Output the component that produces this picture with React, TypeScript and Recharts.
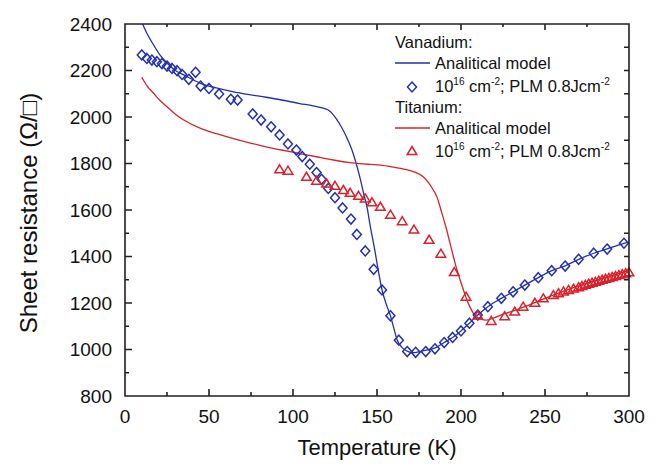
import React from 'react';
import { ComposedChart, Line, XAxis, YAxis } from 'recharts';

// [temperature K, sheet resistance Ω/□]
const vanadiumModel: [number, number][] = [
  [10.5, 2400], [13, 2360], [17, 2310], [21, 2265], [25, 2232], [30, 2200], [35, 2181],
  [45, 2145], [55, 2124], [64, 2109], [74, 2096], [84, 2085], [94, 2072], [104, 2058],
  [112, 2048], [118, 2038], [122, 2025], [126, 1990], [129, 1955], [132, 1912], [135, 1860],
  [137, 1815], [140, 1735], [142, 1672], [144, 1614], [146, 1530], [148.5, 1435], [151, 1330],
  [153, 1256], [155.5, 1195], [158, 1145], [160, 1092], [162, 1041], [165, 1008], [168, 993],
  [171, 986], [175, 990], [180, 998], [185, 1008], [190, 1030], [195, 1052], [200, 1080],
  [205, 1113], [210, 1148], [216, 1184], [224, 1220], [231, 1248], [238, 1277], [246, 1309],
  [254, 1339], [262, 1360], [270, 1388], [279, 1414], [287, 1433], [297, 1456], [300, 1462],
];

const vanadiumData: [number, number][] = [
  [10, 2267], [13, 2252], [16, 2245], [19, 2238], [22, 2230], [25, 2219], [28, 2209],
  [31, 2199], [34, 2183], [38, 2162], [42, 2192], [45, 2133], [50, 2123], [56, 2099],
  [63, 2076], [67, 2073], [76, 2013], [81, 1987], [87, 1958], [92, 1923], [97, 1884],
  [102, 1858], [105.5, 1830], [110, 1797], [114, 1761], [117, 1732], [121, 1693], [125, 1653],
  [129.5, 1609], [134.5, 1561], [138, 1495], [143, 1424], [148, 1345], [153, 1256], [158, 1145],
  [163, 1040], [168, 991], [173, 988], [179, 991], [184.5, 1003], [190, 1030], [195, 1052],
  [200, 1080], [205, 1113], [210, 1148], [216, 1184], [224, 1220], [231, 1248], [238, 1277],
  [246, 1309], [254, 1339], [262, 1359], [270, 1388], [279, 1414], [287, 1432], [297, 1457],
];

const titaniumModel: [number, number][] = [
  [10, 2171], [13, 2135], [17, 2102], [21, 2070], [25, 2044], [30, 2012], [35, 1987],
  [45, 1951], [55, 1927], [64, 1908], [74, 1889], [84, 1872], [94, 1857], [104, 1843],
  [114, 1829], [124, 1815], [135, 1803], [146, 1796], [152, 1793], [160, 1784], [166, 1776],
  [172, 1764], [177.5, 1743], [181, 1715], [183.5, 1686], [186, 1650], [187.5, 1614],
  [189.5, 1565], [191.5, 1514], [193.5, 1455], [195.5, 1399], [197.5, 1345], [199.5, 1299],
  [201.5, 1255], [203.5, 1213], [205.5, 1180], [207.5, 1154], [209.5, 1140], [211.5, 1132],
  [215, 1126], [220, 1137], [225, 1152], [232, 1168], [240, 1190], [250, 1220], [260, 1248],
  [270, 1274], [280, 1297], [290, 1319], [300, 1340],
];

const titaniumData: [number, number][] = [
  [92, 1775], [97, 1769], [108, 1743], [114, 1726], [120, 1714], [125, 1704], [130, 1686],
  [134, 1674], [139, 1661], [143, 1650], [147, 1633], [152, 1614], [158, 1580], [165, 1552],
  [172, 1516], [181, 1472], [188, 1412], [196, 1333], [203, 1227], [210, 1146], [218, 1123],
  [226, 1143], [232, 1163], [237, 1184], [244, 1201], [249, 1220], [255, 1234], [258, 1242],
  [261, 1250], [264, 1256], [267, 1262], [270, 1268], [272, 1273], [274, 1278], [276, 1283],
  [278, 1287], [280, 1291], [282, 1296], [284, 1300], [286, 1304], [288, 1308], [290, 1312],
  [292, 1316], [294, 1320], [296, 1324], [298, 1328], [300, 1332],
];

const xTicks = [0, 25, 50, 75, 100, 125, 150, 175, 200, 225, 250, 275, 300];
const yTicks = [800, 900, 1000, 1100, 1200, 1300, 1400, 1500, 1600, 1700, 1800, 1900, 2000, 2100, 2200, 2300, 2400];

const BLUE = '#2130b0';
const RED = '#d9222a';
const INK = '#222222';
const FONT = '"Liberation Sans", Arial, sans-serif';

const W = 660;
const H = 466;
const MARGIN = { top: 24, right: 31, bottom: 0, left: 0 };
const Y_AXIS_W = 125;
const X_AXIS_H = 70;
const box = {
  left: MARGIN.left + Y_AXIS_W,
  right: W - MARGIN.right,
  top: MARGIN.top,
  bottom: H - MARGIN.bottom - X_AXIS_H,
};
const sx = (v: number) => box.left + (v / 300) * (box.right - box.left);
const sy = (v: number) => box.bottom - ((v - 800) / 1600) * (box.bottom - box.top);

const toPoints = (arr: [number, number][]) => arr.map(([t, r]) => ({ t, r }));

const renderBottomTick = (props: any) => {
  const { x, y, payload } = props;
  if (payload.value % 50 !== 0) return <g key={`b${payload.value}`} />;
  return (
    <text key={`b${payload.value}`} x={x} y={y + 20} dy="0.35em" textAnchor="middle" fontSize={19} fontFamily={FONT} fill="#111">
      {payload.value}
    </text>
  );
};

const renderLeftTick = (props: any) => {
  const { x, y, payload } = props;
  if (payload.value % 200 !== 0) return <g key={`l${payload.value}`} />;
  return (
    <text key={`l${payload.value}`} x={x - 13} y={y} dy="0.35em" textAnchor="end" fontSize={19} fontFamily={FONT} fill="#111">
      {payload.value}
    </text>
  );
};

const Diamond = (props: any) => {
  const { cx, cy } = props;
  if (cx == null || cy == null) return <g />;
  return (
    <polygon
      points={`${cx},${cy - 5} ${cx + 4.5},${cy} ${cx},${cy + 5} ${cx - 4.5},${cy}`}
      fill="none"
      stroke={BLUE}
      strokeWidth={1.5}
    />
  );
};

const Triangle = (props: any) => {
  const { cx, cy } = props;
  if (cx == null || cy == null) return <g />;
  return (
    <polygon
      points={`${cx},${cy - 4.5} ${cx + 4.8},${cy + 3.5} ${cx - 4.8},${cy + 3.5}`}
      fill="none"
      stroke={RED}
      strokeWidth={1.5}
    />
  );
};

const Dose = ({ x, y }: { x: number; y: number }) => (
  <text x={x} y={y}>
    10<tspan dy={-7} fontSize={10}>16</tspan>
    <tspan dy={7}> cm</tspan>
    <tspan dy={-7} fontSize={10}>-2</tspan>
    <tspan dy={7}>; PLM 0.8Jcm</tspan>
    <tspan dy={-7} fontSize={10}>-2</tspan>
  </text>
);

// frame path with inward ticks on all four sides
const frameD = () => {
  let d = `M${box.left},${box.top}H${box.right}V${box.bottom}H${box.left}Z`;
  xTicks.forEach((v) => {
    const len = v % 50 === 0 ? 7 : 4;
    d += `M${sx(v)},${box.bottom}v${-len}M${sx(v)},${box.top}v${len - 1}`;
  });
  yTicks.forEach((v) => {
    const len = v % 200 === 0 ? 7 : 4;
    d += `M${box.left},${sy(v)}h${len}M${box.right},${sy(v)}h-5`;
  });
  return d;
};

const Overlay = () => (
  <svg width={W} height={H} style={{ position: 'absolute', left: 0, top: 0, pointerEvents: 'none' }}>
    <path d={frameD()} fill="none" stroke={INK} strokeWidth={1.6} />
    <g fontFamily={FONT} fontSize={16.5} fill="#111">
      <text x={395} y={48}>Vanadium:</text>
      <line x1={395} x2={430} y1={63} y2={63} stroke={BLUE} strokeWidth={1.3} />
      <text x={435} y={69}>Analitical model</text>
      <Diamond cx={412} cy={87} />
      <Dose x={435} y={92} />
      <text x={395} y={113}>Titanium:</text>
      <line x1={395} x2={430} y1={128} y2={128} stroke={RED} strokeWidth={1.3} />
      <text x={435} y={134}>Analitical model</text>
      <Triangle cx={412} cy={151} />
      <Dose x={435} y={157} />
    </g>
    <text x={377} y={447} dy="0.35em" textAnchor="middle" fontFamily={FONT} fontSize={22} fill="#111">
      Temperature (K)
    </text>
    <text
      transform="translate(29,213) rotate(-90)"
      dy="0.35em"
      textAnchor="middle"
      fontFamily={FONT}
      fontSize={24}
      fill="#111"
    >
      Sheet resistance (Ω/□)
    </text>
  </svg>
);

export default function App() {
  return (
    <div style={{ position: 'absolute', left: 0, top: 0, width: W, height: H, background: '#fff' }}>
      <ComposedChart width={W} height={H} margin={MARGIN}>
        <XAxis
          xAxisId="b"
          type="number"
          dataKey="t"
          domain={[0, 300]}
          ticks={xTicks}
          interval={0}
          tickSize={0}
          tickMargin={0}
          tickLine={false}
          height={X_AXIS_H}
          axisLine={false}
          tick={renderBottomTick}
        />
        <YAxis
          yAxisId="l"
          type="number"
          dataKey="r"
          domain={[800, 2400]}
          ticks={yTicks}
          interval={0}
          tickSize={0}
          tickMargin={0}
          tickLine={false}
          width={Y_AXIS_W}
          axisLine={false}
          tick={renderLeftTick}
        />
        <Line
          xAxisId="b"
          yAxisId="l"
          data={toPoints(vanadiumModel)}
          dataKey="r"
          type="monotone"
          stroke={BLUE}
          strokeWidth={1.3}
          dot={false}
          activeDot={false}
          isAnimationActive={false}
        />
        <Line
          xAxisId="b"
          yAxisId="l"
          data={toPoints(titaniumModel)}
          dataKey="r"
          type="monotone"
          stroke={RED}
          strokeWidth={1.3}
          dot={false}
          activeDot={false}
          isAnimationActive={false}
        />
        <Line
          xAxisId="b"
          yAxisId="l"
          data={toPoints(vanadiumData)}
          dataKey="r"
          stroke="none"
          dot={<Diamond />}
          activeDot={false}
          isAnimationActive={false}
        />
        <Line
          xAxisId="b"
          yAxisId="l"
          data={toPoints(titaniumData)}
          dataKey="r"
          stroke="none"
          dot={<Triangle />}
          activeDot={false}
          isAnimationActive={false}
        />
      </ComposedChart>
      <Overlay />
    </div>
  );
}
